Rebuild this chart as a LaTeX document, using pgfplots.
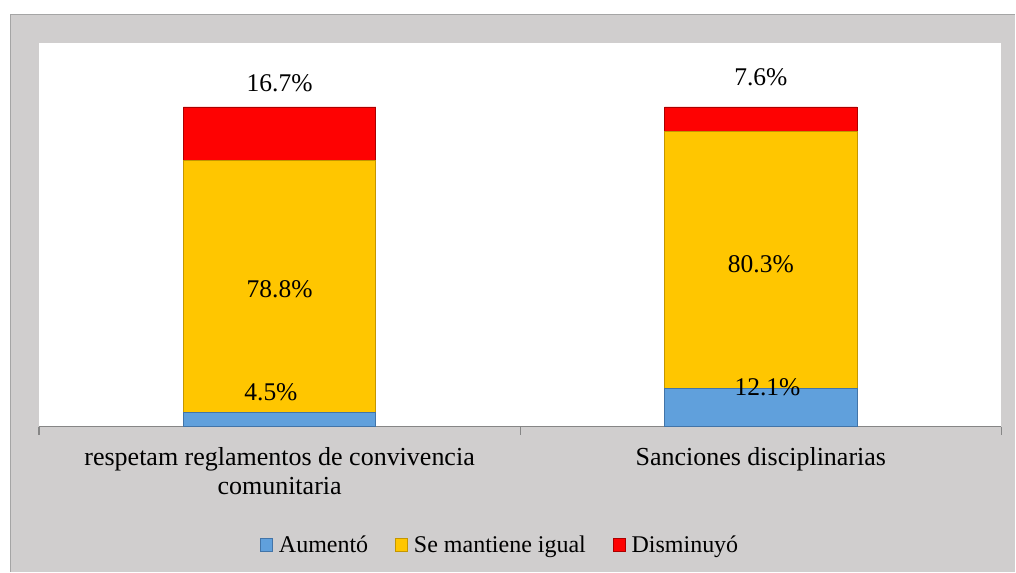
\documentclass[border=0pt]{standalone}
\usepackage{pgfplots}
\pgfplotsset{compat=1.18}
\usepackage{fontspec}
\setmainfont{Liberation Serif}
\definecolor{frame}{RGB}{208,206,206}
\definecolor{framel}{RGB}{165,165,165}
\definecolor{axl}{RGB}{134,134,134}
\definecolor{cblue}{RGB}{96,160,220}
\definecolor{cblued}{RGB}{66,116,168}
\definecolor{cyel}{RGB}{255,198,0}
\definecolor{cyeld}{RGB}{196,150,0}
\definecolor{cred}{RGB}{254,2,2}
\definecolor{credd}{RGB}{170,0,0}
\begin{document}
\begin{tikzpicture}[x=1bp,y=1bp]
\fill[frame] (10,0) rectangle (1016,558);
\draw[framel, line width=1.2bp] (10.6,0) -- (10.6,557.4) -- (1016,557.4);
\useasboundingbox (0,0) rectangle (1016,572);
\begin{axis}[
  at={(39bp,145bp)}, anchor=south west,
  scale only axis, width=963bp, height=384bp,
  xmin=-0.5, xmax=1.5, ymin=0, ymax=120,
  axis background/.style={fill=white},
  axis x line*=bottom, axis y line=none,
  axis line style={axl, line width=1.2bp},
  ybar stacked, bar width=0.4,
  xtick={0,1},
  xticklabels={{respetam reglamentos de convivencia\\comunitaria},{Sanciones disciplinarias}},
  major tick length=0pt,
  extra x ticks={-0.5,0.5,1.5},
  extra x tick labels={},
  extra x tick style={major tick length=8bp, tick align=outside, tick style={axl, line width=1.2bp}},
  xticklabel style={font=\fontsize{26bp}{29bp}\selectfont, align=center, yshift=-17bp},
  ytick=\empty,
  legend style={at={(0.2265,-0.307)}, anchor=west, draw=none, fill=none,
    font=\fontsize{24bp}{28bp}\selectfont, legend columns=-1,
    /tikz/every even column/.append style={column sep=24bp},
    nodes={inner xsep=3bp}},
  legend image code/.code={\fill[#1] (0bp,-6.5bp) rectangle (12bp,6.5bp);},
]
\addplot[fill=cblue, draw=cblued, line width=0.8bp] coordinates {(0,4.5) (1,12.1)};
\addplot[fill=cyel, draw=cyeld, line width=0.8bp] coordinates {(0,78.8) (1,80.3)};
\addplot[fill=cred, draw=credd, line width=0.8bp] coordinates {(0,16.7) (1,7.6)};
\legend{\hspace{3bp}Aumentó, \hspace{3bp}Se mantiene igual, \hspace{3bp}Disminuyó}
\end{axis}
\begin{axis}[
  at={(39bp,145bp)}, anchor=south west,
  scale only axis, width=963bp, height=384bp,
  xmin=-0.5, xmax=1.5, ymin=0, ymax=120,
  hide axis,
  nodes near coords, point meta=explicit symbolic,
  every node near coord/.append style={anchor=center, font=\fontsize{25.5bp}{30bp}\selectfont, text=black},
]
\addplot[draw=none, mark=none] coordinates {
  (0,107.3) [16.7\%]
  (1,109.3) [7.6\%]
  (0,43.1) [78.8\%]
  (1,50.9) [80.3\%]
  (-0.018,10.9) [4.5\%]
  (1.014,12.5) [12.1\%]
};
\end{axis}
\end{tikzpicture}
\end{document}
